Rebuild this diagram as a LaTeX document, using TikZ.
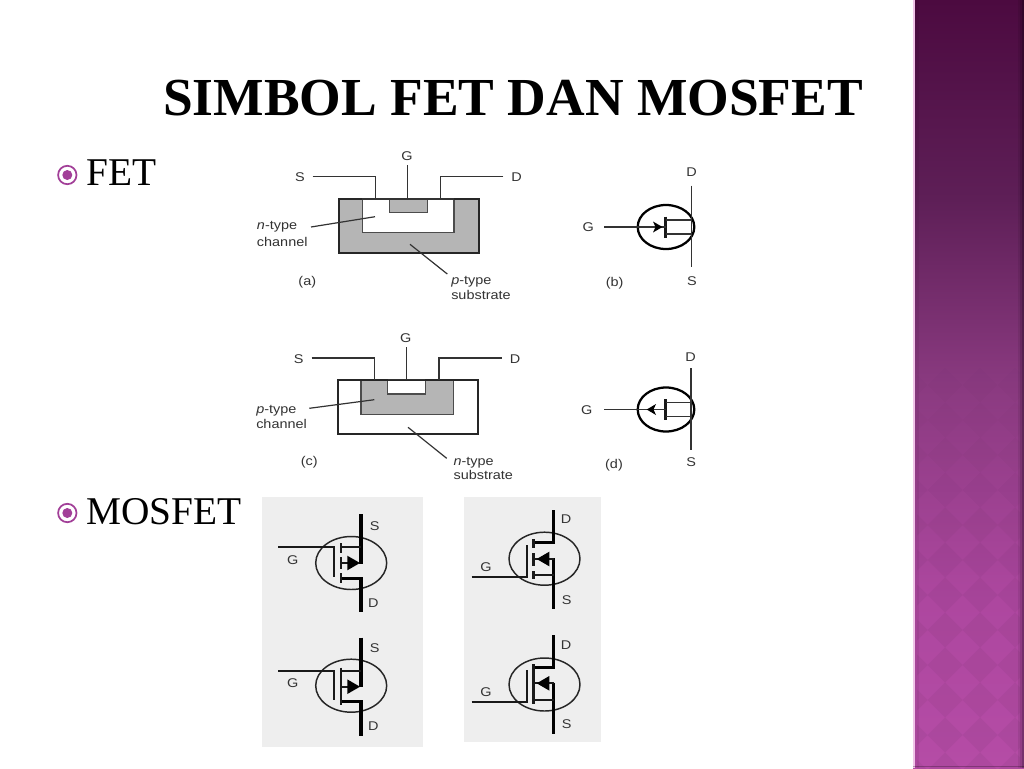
\documentclass[tikz,border=0pt]{standalone}
\usepackage{fontspec}
\setmainfont{Liberation Serif}
\newfontfamily\labfont[FakeStretch=1.14]{Liberation Sans}
\definecolor{bandA}{HTML}{4C0A40}
\definecolor{bandB}{HTML}{5E1F57}
\definecolor{bandC}{HTML}{8A3A80}
\definecolor{bandD}{HTML}{AD479F}
\definecolor{bandE}{HTML}{B54CA6}
\definecolor{bandedge}{HTML}{F0C4E8}
\definecolor{bulletc}{HTML}{A23F98}
\definecolor{fillgray}{HTML}{B5B5B5}
\definecolor{panelgray}{HTML}{EEEEEE}
\definecolor{inkc}{HTML}{333333}
\pgfdeclareverticalshading{bandshade}{100bp}{
  color(0bp)=(bandE); color(25bp)=(bandE); color(36bp)=(bandD);
  color(50bp)=(bandC); color(62bp)=(bandB); color(75bp)=(bandA); color(100bp)=(bandA)}
\tikzset{
  x=0.75pt,y=-0.75pt,
  lab/.style={font=\labfont\fontsize{9.5pt}{10pt}\selectfont,text=inkc,inner sep=0pt},
  labl/.style={lab,anchor=west},
  wire/.style={draw=inkc,line width=0.9pt},
  wall/.style={draw=black!85,line width=1.5pt},
  inner wall/.style={draw=black!70,line width=1pt},
  circ/.style={draw=black,line width=1.7pt},
  sym/.style={draw=black!90,line width=1.1pt,line cap=butt},
  thick lead/.style={draw=black,line width=2.3pt},
  thin ring/.style={draw=black!85,line width=1.1pt},
  head/.style={fill=black,draw=none},
  bodytext/.style={font=\fontsize{29.5pt}{32pt}\selectfont,text=black,inner sep=0pt,anchor=base west},
}
% FET symbol: #2 y of the gate, #3 x of the drain-source line, #4 and #5 its ends
\newcommand{\fetsym}[5]{%
  \draw[circ] (666,#2) ellipse [x radius=28.3,y radius=22];
  \draw[wire,line width=1pt] (#3,#4) -- (#3,#5);
  \draw[sym,line width=1.9pt] (665.7,#2-10.5) -- (665.7,#2+10.5);
  \draw[wire] (665.7,#2-7) -- (#3,#2-7) (665.7,#2+7) -- (#3,#2+7);
  \draw[wire] (604,#2) -- (665.7,#2);
}
\newcommand{\mosring}[2]{\draw[thin ring] (#1,#2) ellipse [x radius=35.5,y radius=26.5];}
\begin{document}
\begin{tikzpicture}
\useasboundingbox (0,0) rectangle (1024,768);
\fill[white] (0,0) rectangle (1024,768);
% side band
\shade[shading=bandshade] (913,0) rectangle (1024,768);
\begin{scope}
\clip (917,0) rectangle (1020,768);
\foreach \r in {10,...,22}{
  \foreach \c in {26,...,29}{
    \pgfmathsetmacro{\op}{min(0.04,max(0,(\r*35-340)/7000))}
    \fill[black,opacity=\op] (\c*35,\r*35-17.5) -- (\c*35+17.5,\r*35) -- (\c*35,\r*35+17.5) -- (\c*35-17.5,\r*35) -- cycle;
  }
}
\end{scope}
\fill[bandedge] (913,0) rectangle (914.5,768);
\fill[black,opacity=0.05] (914.5,0) rectangle (919,768);
\fill[black,opacity=0.08] (1018,0) rectangle (1024,768);
\fill[black,opacity=0.12] (1020,0) rectangle (1024,768);
\fill[black,opacity=0.18] (1022,0) rectangle (1024,768);
\draw[black,opacity=0.25,line width=0.5pt] (913,766) -- (1024,766);
% title
\node[font=\bfseries\fontsize{40.1pt}{44pt}\selectfont,text=black,inner sep=0pt,anchor=base] (title) at (513,115) {SIMBOL FET DAN MOSFET};
% bullets and headings
\foreach \n/\yy in {a/175,b/513}{
  \draw[bulletc,line width=1.3pt,fill=white] (67.3,\yy) circle [radius=9.2];
  \fill[bulletc] (67.3,\yy) circle [radius=5];
}
\node[bodytext] (fet) at (86,185) {FET};
\node[bodytext] (mosfet) at (86,524) {MOSFET};

% (a)
\fill[fillgray] (339.3,199) rectangle (478.7,253.3);
\fill[white] (362.3,199) rectangle (454,232.7);
\draw[inner wall] (362.3,199) -- (362.3,232.7) -- (454,232.7) -- (454,199);
\draw[inner wall,fill=fillgray] (389.3,199) rectangle (427.3,212.3);
\draw[wall] (339.3,199) rectangle (478.7,253.3);
\draw[wire] (362.3,199) -- (454,199);
\node[lab] (Sa) at (300,177) {S};
\node[lab] (Ga) at (407,156) {G};
\node[lab] (Da) at (516.7,177) {D};
\coordinate (Sa1) at (312.7,176.3); \coordinate (Sa2) at (375.7,199);
\coordinate (Ga1) at (407.7,165);   \coordinate (Ga2) at (407.7,199);
\coordinate (Da1) at (503.3,176.3); \coordinate (Da2) at (440.3,199);
\draw[wire] (Sa1) -| (Sa2);
\draw[wire] (Ga1) -- (Ga2);
\draw[wire] (Da1) -| (Da2);
\node[labl] (nta) at (256.7,226.7) {\textit{n}-type};
\node[labl] (cha) at (256.7,241.7) {channel};
\coordinate (la1) at (311,227); \coordinate (la2) at (375,216.7);
\draw[wire] (la1) -- (la2);
\node[lab] (capa) at (307.3,282.7) {(a)};
\node[labl] (pta) at (451,281.3) {\textit{p}-type};
\node[labl] (sua) at (451,295.3) {substrate};
\coordinate (lb1) at (410,244.3); \coordinate (lb2) at (447.3,274);
\draw[wire] (lb1) -- (lb2);

% (c)
\draw[inner wall,fill=fillgray] (361,379.7) rectangle (453.3,414.7);
\draw[inner wall,fill=white] (387.7,379.7) rectangle (425.3,394);
\draw[wall] (338.3,379.7) rectangle (478.3,434.3);
\draw[wire] (387.7,379.7) -- (425.3,379.7);
\node[lab] (Sc) at (298.7,358.7) {S};
\node[lab] (Gc) at (405.7,338) {G};
\node[lab] (Dc) at (515,358.7) {D};
\coordinate (Sc1) at (311.7,358); \coordinate (Sc2) at (374.3,379.7);
\coordinate (Gc1) at (406.3,347.3); \coordinate (Gc2) at (406.3,379.7);
\coordinate (Dc1) at (501.7,358); \coordinate (Dc2) at (439,379.7);
\draw[wire] (Sc1) -| (Sc2);
\draw[wire] (Gc1) -- (Gc2);
\draw[wire] (Dc1) -| (Dc2);
\node[labl] (ptc) at (256,411) {\textit{p}-type};
\node[labl] (chc) at (256,423.7) {channel};
\coordinate (lc1) at (309.3,408.3); \coordinate (lc2) at (374.3,399.7);
\draw[wire] (lc1) -- (lc2);
\node[lab] (capc) at (309.3,462.3) {(c)};
\node[labl] (ntc) at (453.3,462.7) {\textit{n}-type};
\node[labl] (suc) at (453.3,475.3) {substrate};
\coordinate (ld1) at (408,427.3); \coordinate (ld2) at (446.7,458.3);
\draw[wire] (ld1) -- (ld2);

% (b)
\fetsym{b}{227}{691.7}{185.7}{267.3}
\fill[black] (662.5,227) -- (653,221.5) -- (655.5,227) -- (653,232.5) -- cycle;
\node[lab] (Gb) at (588.3,227.3) {G};
\node[lab] (Db) at (691.7,172.3) {D};
\node[lab] (Sb) at (692,281) {S};
\node[lab] (capb) at (614.7,283.3) {(b)};

% (d)
\fetsym{d}{409.5}{691}{368.3}{450}
\fill[black] (646.7,409.5) -- (656,404) -- (653.5,409.5) -- (656,415) -- cycle;
\node[lab] (Gd) at (586.7,410.3) {G};
\node[lab] (Dd) at (690.7,356.7) {D};
\node[lab] (Sd) at (691.3,462.3) {S};
\node[lab] (capd) at (614,465.7) {(d)};

% MOSFET panels
\fill[panelgray] (262,497) rectangle (423,747);
\fill[panelgray] (464,497) rectangle (601,742);

% panel 1 top
\mosring{351.2}{563}
\draw[thick lead] (361,514) -- (361,564);
\draw[thick lead] (340,578.3) -- (361,578.3) -- (361,612.3);
\draw[sym,line width=1.5pt] (340.7,547.3) -- (361,547.3);
\draw[sym,line width=1.6pt] (278.3,547.3) -- (334,547.3) -- (334,577);
\draw[sym,line width=1.8pt] (340.7,543.3) -- (340.7,553.3) (340.7,557) -- (340.7,569) (340.7,573) -- (340.7,583);
\draw[sym,line width=1.5pt] (340.7,563) -- (350,563);
\fill[head] (360,563) -- (347.3,555.7) -- (347.3,570.3) -- cycle;
\node[lab] (S1) at (374.7,525.7) {S};
\node[lab] (D1) at (373.3,602.7) {D};
\node[lab] (G1) at (292.7,560) {G};

% panel 1 bottom
\mosring{351.2}{685.7}
\draw[thick lead] (361,637.7) -- (361,687);
\draw[thick lead] (340,701.7) -- (361,701.7) -- (361,735.7);
\draw[sym,line width=1.5pt] (340.7,671) -- (361,671);
\draw[sym,line width=1.6pt] (278.3,671) -- (334,671) -- (334,700);
\draw[sym,line width=1.8pt] (340.7,667.7) -- (340.7,705);
\draw[sym,line width=1.5pt] (340.7,686.7) -- (350,686.7);
\fill[head] (360,686.7) -- (347.3,679.4) -- (347.3,694) -- cycle;
\node[lab] (S2) at (374.7,647.7) {S};
\node[lab] (D2) at (373.3,726) {D};
\node[lab] (G2) at (292.7,683.3) {G};

% panel 2 top
\mosring{544.5}{558.7}
\draw[thick lead] (533,542.7) -- (553.7,542.7) -- (553.7,510);
\draw[thick lead] (553.7,558) -- (553.7,609);
\draw[sym,line width=1.5pt] (533.3,575) -- (553.7,575);
\draw[sym,line width=1.5pt] (533.3,559) -- (553.7,559);
\draw[sym,line width=1.6pt] (471.7,576.7) -- (527,576.7) -- (527,545);
\draw[sym,line width=1.8pt] (533.3,539.3) -- (533.3,548.3) (533.3,553.3) -- (533.3,565.7) (533.3,571) -- (533.3,579);
\fill[head] (536.7,559) -- (549.3,551.7) -- (549.3,566.3) -- cycle;
\node[lab] (D3) at (566,519.3) {D};
\node[lab] (S3) at (566.7,600) {S};
\node[lab] (G3) at (486,566.7) {G};

% panel 2 bottom
\mosring{544.5}{684.5}
\draw[thick lead] (533,667.7) -- (553.7,667.7) -- (553.7,635);
\draw[thick lead] (553.7,682.5) -- (553.7,734);
\draw[sym,line width=1.5pt] (533.3,700.3) -- (553.7,700.3);
\draw[sym,line width=1.5pt] (533.3,683.3) -- (553.7,683.3);
\draw[sym,line width=1.6pt] (471.7,701.7) -- (527,701.7) -- (527,670);
\draw[sym,line width=1.8pt] (533.3,664.3) -- (533.3,704.3);
\fill[head] (536.7,683.3) -- (549.3,676) -- (549.3,690.6) -- cycle;
\node[lab] (D4) at (566,645) {D};
\node[lab] (S4) at (566.7,724.3) {S};
\node[lab] (G4) at (486,691.7) {G};
\end{tikzpicture}
\end{document}
